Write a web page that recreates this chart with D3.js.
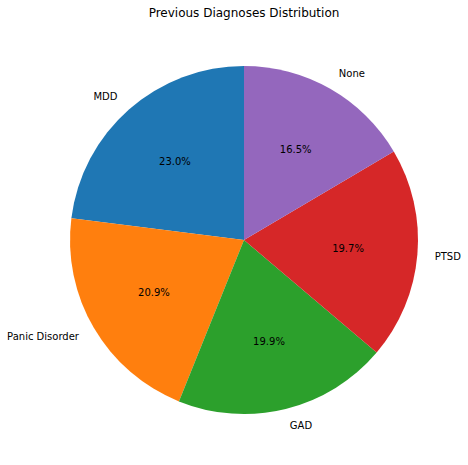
<!DOCTYPE html>
<html><head><meta charset="utf-8">
<script src="https://cdn.jsdelivr.net/npm/d3@7"></script>
<style>body{margin:0;background:#fff}</style>
</head><body>
<svg id="chart" width="468" height="465"></svg>
<script>
const categories = ["MDD", "Panic Disorder", "GAD", "PTSD", "None"];
const values = [23.0, 20.9, 19.9, 19.7, 16.5];
const colors = ["#1f77b4", "#ff7f0e", "#2ca02c", "#d62728", "#9467bd"];
const title = "Previous Diagnoses Distribution";

const svg = d3.select("#chart");
const cx = 244, cy = 240, r = 174;
const font = "DejaVu Sans, sans-serif";

svg.append("text").attr("x", cx).attr("y", 17).attr("text-anchor", "middle")
  .attr("font-family", font).attr("font-size", 12).attr("fill", "#000").text(title);

const pie = d3.pie().sort(null).startAngle(0).endAngle(-2 * Math.PI);
const arcs = pie(values);
const arc = d3.arc().innerRadius(0).outerRadius(r);
const g = svg.append("g").attr("transform", `translate(${cx},${cy})`);

g.selectAll("path").data(arcs).join("path")
  .attr("d", arc).attr("fill", (d, i) => colors[i]);

const total = d3.sum(values);
arcs.forEach((d, i) => {
  const mid = (d.startAngle + d.endAngle) / 2;
  const x = Math.sin(mid), y = -Math.cos(mid);
  g.append("text").attr("x", 1.1 * r * x).attr("y", 1.1 * r * y)
    .attr("dy", "0.35em")
    .attr("text-anchor", x < 0 ? "end" : "start")
    .attr("font-family", font).attr("font-size", 10).attr("fill", "#000")
    .text(categories[i]);
  g.append("text").attr("x", 0.6 * r * x).attr("y", 0.6 * r * y)
    .attr("dy", "0.35em").attr("text-anchor", "middle")
    .attr("font-family", font).attr("font-size", 10).attr("fill", "#000")
    .text((d.value / total * 100).toFixed(1) + "%");
});
</script>
</body></html>
